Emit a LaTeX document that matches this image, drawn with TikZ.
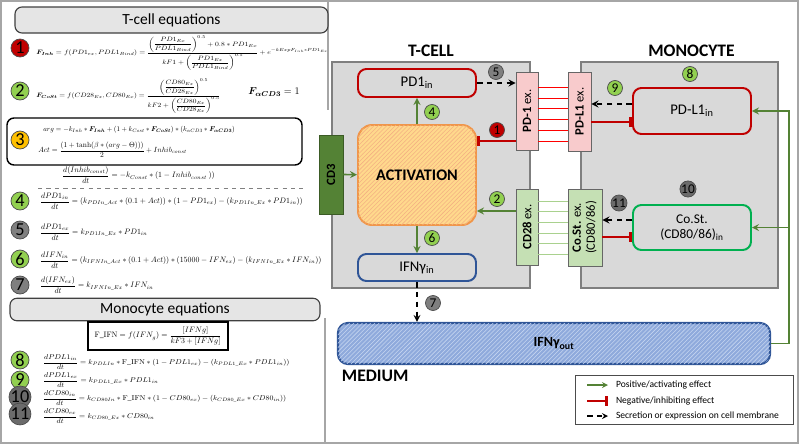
\RequirePackage{fix-cm}
\documentclass[tikz,border=0pt]{standalone}
\usepackage{amsmath}
\usepackage{graphicx}
\usepackage[no-math]{fontspec}
\setmainfont{Carlito}
\usepackage{tikz}
\usetikzlibrary{shapes.geometric, arrows, arrows.meta, patterns, positioning, calc}
\definecolor{cellgray}{HTML}{D9D9D9}
\definecolor{edgegray}{HTML}{7F7F7F}
\definecolor{framegray}{HTML}{A6A6A6}
\definecolor{darkred}{HTML}{C00000}
\definecolor{bindred}{HTML}{FF0000}
\definecolor{darkgreen}{HTML}{548235}
\definecolor{lightgreen}{HTML}{92D050}
\definecolor{paleg}{HTML}{C5E0B4}
\definecolor{lineg}{HTML}{A9D18E}
\definecolor{pdpink}{HTML}{F8CBCC}
\definecolor{brightgreen}{HTML}{00B050}
\definecolor{darkblue}{HTML}{2F5597}
\definecolor{midblue}{HTML}{8FAADC}
\definecolor{paleblue}{HTML}{C5D5F0}
\definecolor{actfill}{HTML}{FFD98C}
\definecolor{actline}{HTML}{F4B183}
\definecolor{actedge}{HTML}{F0964A}
\definecolor{gold}{HTML}{FFC000}
\definecolor{numgray}{HTML}{7F7F7F}
\definecolor{numdark}{HTML}{6B6B6B}
\newcommand{\eqsize}[2][0.56]{\scalebox{#1}{$\displaystyle #2$}}
\newcommand{\eqtall}[2][0.53]{\scalebox{#1}[0.45]{$\displaystyle #2$}}
\newcommand{\eqflat}[1]{\scalebox{0.56}[0.5]{$\displaystyle #1$}}
\tikzstyle{actarrow} = [line width=1.2pt,->,>=stealth,darkgreen]
\tikzstyle{inhibarrow} = [line width=1.2pt,-{Bar[width=7pt,line width=2pt]},darkred]
\tikzstyle{secarrow} = [line width=1.2pt,dash pattern=on 4pt off 3pt,->,>=stealth,black]
\tikzstyle{bindline} = [line width=0.6pt]

\begin{document}
\begin{tikzpicture}[x=0.25mm, y=-0.25mm, node distance=0mm,
cellnode/.style={rectangle, draw=edgegray, fill=cellgray, line width=0.8pt},
innode/.style={rectangle, rounded corners=6pt, line width=1.4pt, fill=cellgray, minimum width=29.5mm, font=\fontsize{10.5}{12}\selectfont},
exnode/.style={rectangle, draw=black!60, line width=0.6pt, inner sep=0pt, font=\fontsize{9}{10}\selectfont},
numnode/.style={circle, draw=black!70, line width=0.5pt, inner sep=0pt, minimum size=3.75mm, font=\fontsize{9.5}{10}\selectfont},
bignum/.style={numnode, minimum size=4.5mm, font=\fontsize{13}{13}\selectfont},
headnode/.style={rectangle, rounded corners=5pt, draw=black!75, fill=black!10, line width=0.8pt, font=\fontsize{11}{12}\selectfont},
eqnode/.style={anchor=west, inner sep=0pt},
titlenode/.style={font=\bfseries\fontsize{12.5}{14}\selectfont},
legendnode/.style={anchor=west, inner sep=1pt, text=black, font=\fontsize{6.8}{8}\selectfont}]
\useasboundingbox (0,0) rectangle (800,445);
\draw[framegray, line width=1.5pt] (1,1) rectangle (798,443);
\draw[framegray, line width=1pt] (328,1) -- (328,110);
\draw[framegray, line width=1pt] (325,318) -- (325,443);

\node[headnode, minimum width=78.25mm, minimum height=6.5mm] (tcellhead) at (171.5,20) {T-cell equations};
\node[bignum, fill=darkred] (eqnum1) at (20,48) {1};
\node[eqnode] (eqinh) at (36,53) {\eqtall[0.545]{\boldsymbol{F_{Inh}} = f(PD1_{ex},PDL1_{Bind}) = \dfrac{\left(\dfrac{PD1_{Ex}}{PDL1_{Bind}}\right)^{0.5} + 0.8 * PD1_{Ex}}{kF1 + \left(\dfrac{PD1_{Ex}}{PDL1_{Bind}}\right)^{0.5}} + e^{-kExpF_{Inh}*PD1_{Ex}}}};
\node[bignum, fill=lightgreen] (eqnum2) at (20,91) {2};
\node[eqnode] (eqcost) at (36,96) {\eqtall{\boldsymbol{F_{CoSt}} = f(CD28_{Ex},CD80_{Ex}) = \dfrac{\left(\dfrac{CD80_{Ex}}{CD28_{Ex}}\right)^{0.5}}{kF2 + \left(\dfrac{CD80_{Ex}}{CD28_{Ex}}\right)^{0.5}}}};
\node[eqnode] (eqcd3) at (248,92) {\eqsize[0.72]{\boldsymbol{F_{\alpha CD3}} = 1}};
\node[rectangle, rounded corners=5pt, draw, line width=1pt, minimum width=73.75mm, minimum height=11.75mm] (box3) at (154.5,141.5) {};
\node[bignum, fill=gold] (eqnum3) at (20,140) {3};
\node[eqnode] (eqarg) at (43,130) {\eqsize[0.5]{arg = -k_{Inh}*\boldsymbol{F_{Inh}} + (1 + k_{Cost}*\boldsymbol{F_{CoSt}})*(k_{\alpha CD3}*\boldsymbol{F_{\alpha CD3}})}};
\node[eqnode] (eqact) at (38,150) {\eqsize[0.53]{Act = \dfrac{(1+\tanh(\beta*(arg-\Theta)))}{2} + Inhib_{const}}};
\node[eqnode] (eqinhib) at (62,175) {\eqsize{\dfrac{d(Inhib_{const})}{dt} = -k_{Const}*(1 - Inhib_{const}\ ))}};
\draw[dashed, black!50, line width=0.5pt] (38,188) -- (303,188);
\node[bignum, fill=lightgreen] (eqnum4) at (20,201) {4};
\node[eqnode] (eqpd1in) at (40,201) {\eqsize{\dfrac{dPD1_{in}}{dt} = (k_{PDIn\_Act}*(0.1+Act))*(1-PD1_{ex}) - (k_{PD1In\_Ex}*PD1_{in}))}};
\node[bignum, fill=numgray] (eqnum5) at (20,230) {5};
\node[eqnode] (eqpd1ex) at (40,232) {\eqsize{\dfrac{dPD1_{ex}}{dt} = k_{PD1In\_Ex}*PD1_{in}}};
\node[bignum, fill=lightgreen] (eqnum6) at (20,259) {6};
\node[eqnode] (eqifnin) at (40,260) {\eqsize{\dfrac{dIFN_{in}}{dt} = (k_{IFNIn\_Act}*(0.1+Act))*(15000-IFN_{ex}) - (k_{IFNIn\_Ex}*IFN_{in}))}};
\node[bignum, fill=numgray] (eqnum7) at (20,285) {7};
\node[eqnode] (eqifnex) at (40,285) {\eqsize{\dfrac{d(IFN_{ex})}{dt} = k_{IFNIn\_Ex}*IFN_{in}}};

\node[headnode, minimum width=77.5mm, minimum height=5.5mm] (monohead) at (165,309.5) {Monocyte equations};
\node[rectangle, draw, line width=1pt, minimum width=35mm, minimum height=7mm] (fifn) at (158,336) {\eqsize{\mathrm{F\_IFN} = f(IFN_g) = \dfrac{[IFNg]}{kF3+[IFNg]}}};
\node[bignum, fill=lightgreen] (eqnum8) at (20,360) {8};
\node[eqnode] (eqpdl1in) at (43,362) {\eqflat{\dfrac{dPDL1_{in}}{dt} = k_{PDLIn}*\mathrm{F\_IFN}*(1-PDL1_{ex}) - (k_{PDL1\_Ex}*PDL1_{in}))}};
\node[bignum, fill=lightgreen] (eqnum9) at (20,380) {9};
\node[eqnode] (eqpdl1ex) at (43,380) {\eqflat{\dfrac{dPDL1_{ex}}{dt} = k_{PDL1\_Ex}*PDL1_{in}}};
\node[bignum, fill=numdark] (eqnum10) at (20,397) {10};
\node[eqnode] (eqcdin) at (43,398) {\eqflat{\dfrac{dCD80_{in}}{dt} = k_{CD80In}*\mathrm{F\_IFN}*(1-CD80_{ex}) - (k_{CD80\_Ex}*CD80_{in}))}};
\node[bignum, fill=numdark] (eqnum11) at (20,414) {11};
\node[eqnode] (eqcdex) at (43,416) {\eqflat{\dfrac{dCD80_{ex}}{dt} = k_{CD80\_Ex}*CD80_{in}}};

\node[cellnode, minimum width=49.5mm, minimum height=56.5mm] (tcell) at (431,175) {};
\node[titlenode, above=of tcell] (tcelltxt) {T-CELL};
\node[cellnode, minimum width=49.25mm, minimum height=56.5mm] (mono) at (679.5,175) {};
\node[titlenode, above=of mono, xshift=3mm] (monotxt) {MONOCYTE};

\node[innode, draw=darkred, minimum height=7mm] (pd1in) at (417,83) {PD1\textsubscript{in}};
\node[innode, draw=actedge, fill=actfill, postaction={pattern=north east lines, pattern color=actline}, rounded corners=10pt, minimum height=25mm, font=\bfseries\fontsize{11.5}{13}\selectfont] (act) at (417,175) {ACTIVATION};
\node[innode, draw=darkblue, minimum height=6.75mm] (ifnin) at (417,267.5) {IFNγ\textsubscript{in}};
\node[exnode, draw=darkgreen!70!black, fill=darkgreen, minimum width=6mm, minimum height=19.75mm, font=\bfseries\fontsize{9}{10}\selectfont] (cd3) at (331,174.5) {\rotatebox{90}{CD3}};

\node[exnode, fill=pdpink, minimum width=5.5mm, minimum height=19.5mm] (pd1ex) at (527,111) {\rotatebox{90}{\textbf{PD-1} ex.}};
\node[exnode, fill=pdpink, minimum width=5.75mm, minimum height=19.75mm] (pdl1ex) at (579.5,111.5) {\rotatebox{90}{\textbf{PD-L1} ex.}};
\node[exnode, fill=paleg, minimum width=5.5mm, minimum height=19mm] (cd28ex) at (527,227) {\rotatebox{90}{\textbf{CD28} ex.}};
\node[exnode, fill=paleg, minimum width=8.5mm, minimum height=19.25mm] (costex) at (585,227.5) {\rotatebox{90}{\begin{tabular}{@{}c@{}}\textbf{Co.St.} ex.\\(CD80/86)\end{tabular}}};

\node[innode, draw=darkred, minimum height=11.5mm] (pdl1in) at (692,111) {PD-L1\textsubscript{in}};
\node[innode, draw=brightgreen, minimum height=11.25mm, align=center, font=\fontsize{9.5}{11}\selectfont] (costin) at (692,227.5) {Co.St.\\(CD80/86)\textsubscript{in}};

\node[rectangle, rounded corners=7pt, draw=darkblue, line width=1.5pt, fill=midblue, postaction={pattern=north east lines, pattern color=paleblue}, minimum width=108mm, minimum height=10.25mm, font=\bfseries\fontsize{10}{12}\selectfont] (ifnout) at (554,343.5) {IFNγ\textsubscript{out}};
\node[titlenode, below right=of ifnout.south west] (medtxt) {MEDIUM};

\draw[bindline, bindred] ($(pd1ex.east)+(0,-24)$) coordinate (b1) -- (b1 -| pdl1ex.west);
\draw[bindline, bindred] ($(pd1ex.east)+(0,-13)$) coordinate (b2) -- (b2 -| pdl1ex.west);
\draw[bindline, bindred] ($(pd1ex.east)+(0,-3)$) coordinate (b3) -- (b3 -| pdl1ex.west);
\draw[bindline, bindred] ($(pd1ex.east)+(0,8)$) coordinate (b4) -- (b4 -| pdl1ex.west);
\draw[bindline, bindred] ($(pd1ex.east)+(0,19)$) coordinate (b5) -- (b5 -| pdl1ex.west);
\draw[bindline, bindred] ($(pd1ex.east)+(0,30)$) coordinate (b6) -- (b6 -| pdl1ex.west);
\draw[bindline, lineg] ($(cd28ex.east)+(0,-26)$) coordinate (g1) -- (g1 -| costex.west);
\draw[bindline, lineg] ($(cd28ex.east)+(0,-16)$) coordinate (g2) -- (g2 -| costex.west);
\draw[bindline, lineg] ($(cd28ex.east)+(0,-5)$) coordinate (g3) -- (g3 -| costex.west);
\draw[bindline, lineg] ($(cd28ex.east)+(0,6)$) coordinate (g4) -- (g4 -| costex.west);
\draw[bindline, lineg] ($(cd28ex.east)+(0,16)$) coordinate (g5) -- (g5 -| costex.west);
\draw[bindline, lineg] ($(cd28ex.east)+(0,27)$) coordinate (g6) -- (g6 -| costex.west);

\draw[actarrow] (cd3) -- (act);
\draw[actarrow] (act) -- (pd1in);
\draw[secarrow] (pd1in.east) -- (pd1in.east -| pd1ex.west);
\draw[inhibarrow] ($(pd1ex.west)+(0,30)$) coordinate (inh1) -- (inh1 -| act.east);
\draw[actarrow] ($(cd28ex.west)+(0,-16)$) coordinate (act2) -- (act2 -| act.east);
\draw[actarrow] (act) -- (ifnin);
\draw[secarrow] (ifnin.south) -- (ifnin.south |- ifnout.north);
\draw[secarrow] ($(pdl1in.west)+(0,-7)$) coordinate (sec9) -- (sec9 -| pdl1ex.east);
\draw[inhibarrow] ($(pdl1ex.east)+(0,10.5)$) coordinate (inh9) -- (inh9 -| pdl1in.west);
\draw[secarrow] ($(costin.west)+(0,-7.5)$) coordinate (sec11) -- (sec11 -| costex.east);
\draw[inhibarrow] ($(costex.east)+(0,9.5)$) coordinate (inh11) -- (inh11 -| costin.west);
\coordinate (rail) at ($(ifnout.east)+(18,0)$);
\draw[actarrow] (ifnout.east) -- (rail) |- (pdl1in.east);
\draw[actarrow] (rail |- costin.east) -- (costin.east);

\node[numnode, fill=darkred] (num1) at (497,130) {1};
\node[numnode, fill=lightgreen] (num2) at (497,199) {2};
\node[numnode, fill=lightgreen] (num4) at (432,112) {4};
\node[numnode, fill=numgray] (num5) at (496,72) {5};
\node[numnode, fill=lightgreen] (num6) at (432,238) {6};
\node[numnode, fill=numgray] (num7) at (433,303) {7};
\node[numnode, fill=lightgreen] (num8) at (690,74) {8};
\node[numnode, fill=lightgreen] (num9) at (615,88) {9};
\node[numnode, fill=numdark] (num10) at (688,189) {10};
\node[numnode, fill=numdark] (num11) at (619,203) {11};

\node[rectangle, draw=black!70, line width=0.6pt, minimum width=54.5mm, minimum height=12.25mm] (legend) at (684,399.5) {};
\coordinate (lg1) at (587,385);
\coordinate (lg2) at (587,401);
\coordinate (lg3) at (587,416);
\draw[actarrow, line width=0.9pt] (lg1) -- ++(21,0) node[legendnode, right=1.5mm] (lgtxt1) {Positive/activating effect};
\draw[inhibarrow, line width=0.9pt] (lg2) -- ++(21,0) node[legendnode, right=1.5mm] (lgtxt2) {Negative/inhibiting effect};
\draw[secarrow, line width=0.9pt] (lg3) -- ++(21,0) node[legendnode, right=1.5mm] (lgtxt3) {Secretion or expression on cell membrane};
\end{tikzpicture}
\end{document}
